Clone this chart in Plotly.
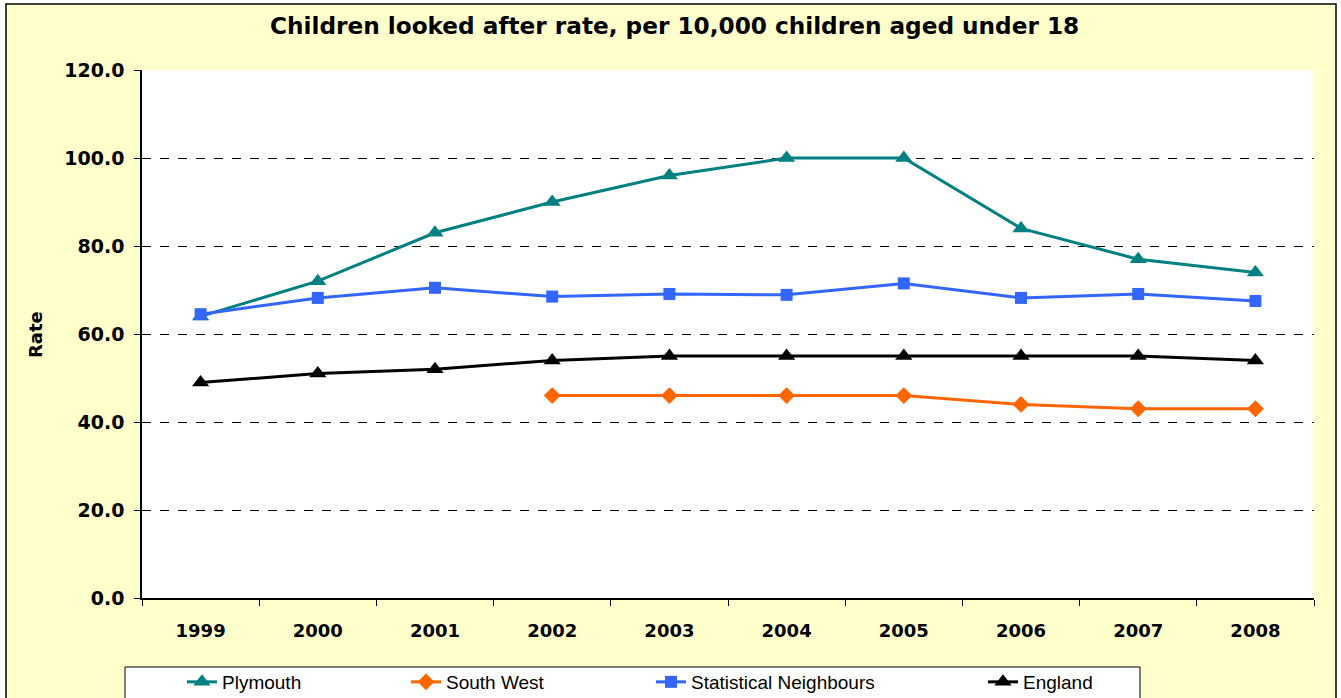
import plotly.graph_objects as go

years = ["1999", "2000", "2001", "2002", "2003", "2004", "2005", "2006", "2007", "2008"]
plymouth = [64, 72, 83, 90, 96, 100, 100, 84, 77, 74]
south_west = [None, None, None, 46, 46, 46, 46, 44, 43, 43]
stat_neighbours = [64.5, 68.2, 70.5, 68.5, 69.1, 68.9, 71.5, 68.2, 69.1, 67.5]
england = [49, 51, 52, 54, 55, 55, 55, 55, 55, 54]

W, H = 1341, 698
L, R, T, B = 142, 1314, 70, 598
pw, ph = R - L, B - T


def px(x):
    return (x - L) / pw


def py(y):
    return (B - y) / ph


fig = go.Figure()

series = [
    ("Plymouth", plymouth, "#008080", "triangle-up", 15, "legend", 223),
    ("South West", south_west, "#FF6600", "diamond", 13, "legend2", 447),
    ("Statistical Neighbours", stat_neighbours, "#3366FF", "square", 12, "legend3", 692),
    ("England", england, "#000000", "triangle-up", 15, "legend4", 1024),
]

legends = {}
for name, vals, col, sym, sz, leg, tx in series:
    fig.add_trace(go.Scatter(
        x=years, y=vals, name=name, mode="lines+markers",
        line=dict(color=col, width=3),
        marker=dict(symbol=sym, size=sz, color=col),
        legend=leg, connectgaps=False,
    ))
    legends[leg] = dict(
        x=(tx - 41) / W, xref="container", xanchor="left",
        y=1 - 682 / H, yref="container", yanchor="middle",
        orientation="h", bgcolor="rgba(0,0,0,0)", borderwidth=0,
        font=dict(family="Liberation Sans, Arial, sans-serif", size=19, color="black"),
        itemwidth=30,
    )

shapes = [
    dict(type="rect", xref="paper", yref="paper", layer="below",
         x0=px(6), x1=px(1336), y0=py(715), y1=py(4),
         fillcolor="#FFFFCC", line=dict(color="black", width=1.5)),
    dict(type="rect", xref="paper", yref="paper", layer="below",
         x0=0, x1=1, y0=0, y1=1, fillcolor="white", line=dict(width=0)),
    dict(type="rect", xref="paper", yref="paper", layer="below",
         x0=px(125), x1=px(1140), y0=py(715), y1=py(667),
         fillcolor="white", line=dict(color="black", width=1)),
]

annotations = [
    dict(text="<b>Children looked after rate, per 10,000 children aged under 18</b>",
         xref="paper", yref="paper", x=px(674), y=py(25), showarrow=False,
         xanchor="center", yanchor="middle",
         font=dict(family="DejaVu Sans, Verdana, sans-serif", size=23.2, color="black")),
    dict(text="<b>Rate</b>", xref="paper", yref="paper", x=px(35), y=py(335),
         showarrow=False, textangle=-90, xanchor="center", yanchor="middle",
         font=dict(family="DejaVu Sans, Verdana, sans-serif", size=18, color="black")),
]

fig.update_layout(
    width=W, height=H,
    margin=dict(l=L, r=W - R, t=T, b=H - B, pad=0),
    paper_bgcolor="white", plot_bgcolor="white",
    shapes=shapes, annotations=annotations,
    showlegend=True,
    **legends,
)

fig.update_xaxes(
    type="category", tickson="boundaries", ticks="outside", ticklen=6,
    tickcolor="black", showline=True, linecolor="black", linewidth=1.5,
    showgrid=False, ticklabelstandoff=16, automargin=False,
    tickfont=dict(family="DejaVu Sans, Verdana, sans-serif", size=18, color="black"),
    range=[-0.5, 9.5],
)
fig.update_yaxes(
    range=[0, 120], dtick=20, tickformat=".1f", ticks="outside", ticklen=6,
    tickcolor="black", showline=True, linecolor="black", linewidth=1.5,
    showgrid=True, gridcolor="black", griddash="dash", gridwidth=1,
    zeroline=False, ticklabelstandoff=6, automargin=False,
    tickfont=dict(family="DejaVu Sans, Verdana, sans-serif", size=19, color="black"),
)
fig.update_xaxes(tickprefix="<b>", ticksuffix="</b>")
fig.update_yaxes(tickprefix="<b>", ticksuffix="</b>")

fig.write_html("out.html")
